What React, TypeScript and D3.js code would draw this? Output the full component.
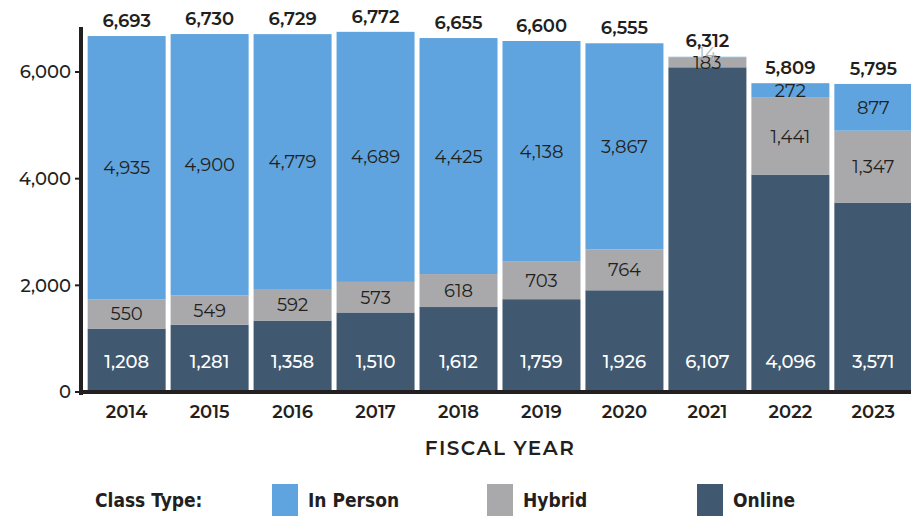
import React from "react";
import * as d3 from "d3";

const years = ["2014", "2015", "2016", "2017", "2018", "2019", "2020", "2021", "2022", "2023"];
const online = [1208, 1281, 1358, 1510, 1612, 1759, 1926, 6107, 4096, 3571];
const hybrid = [550, 549, 592, 573, 618, 703, 764, 183, 1441, 1347];
const inPerson = [4935, 4900, 4779, 4689, 4425, 4138, 3867, 14, 272, 877];
const totals = [6693, 6730, 6729, 6772, 6655, 6600, 6555, 6312, 5809, 5795];
const yTicks = [0, 2000, 4000, 6000];
const seriesNames = ["Online", "Hybrid", "In Person"];

const W = 911;
const H = 516;
const COLORS: Record<string, string> = { Online: "#405870", Hybrid: "#a9a9ab", "In Person": "#5fa4de" };
const FONT = "'Montserrat', 'Lato', 'Open Sans', sans-serif";
const LEGEND_FONT = "'DejaVu Sans Condensed', 'Liberation Sans Narrow', sans-serif";
const INK = "#231f20";
const fmt = d3.format(",");

export default function App() {
  const x = d3.scaleBand<string>().domain(years).range([86, 914]).paddingInner(0.06).paddingOuter(0.02);
  const y = d3.scaleLinear().domain([0, 6000]).range([393, 73]);

  const table = years.map((yr, i) => ({ year: yr, Online: online[i], Hybrid: hybrid[i], "In Person": inPerson[i] }));
  const stack = d3.stack<any>().keys(seriesNames)(table);

  return (
    <svg width={W} height={H} style={{ position: "absolute", left: 0, top: 0, background: "#fff" }}>
      {stack.map((layer) => (
        <g key={layer.key}>
          {layer.map((d, i) => (
            <rect
              key={i}
              x={x(years[i])}
              y={y(d[1])}
              width={x.bandwidth()}
              height={y(d[0]) - y(d[1])}
              fill={COLORS[layer.key]}
            />
          ))}
        </g>
      ))}
      {/* segment labels */}
      {stack.map((layer) => (
        <g key={"l" + layer.key}>
          {layer.map((d, i) => {
            const cx = (x(years[i]) as number) + x.bandwidth() / 2;
            let cy = (y(d[0]) + y(d[1])) / 2;
            let fill = INK;
            if (layer.key === "Online") {
              cy = 362;
              fill = "#ffffff";
            }
            const v = d[1] - d[0];
            if (layer.key === "In Person" && v < 50) {
              cy = y(d[1]) - 3;
              fill = "#b8b8ba";
            }
            return (
              <text
                key={i}
                x={cx}
                y={cy}
                dy="0.36em"
                textAnchor="middle"
                fontFamily={FONT}
                fontSize={18}
                fontWeight={layer.key === "Online" ? 500 : 400}
                fill={fill}
              >
                {fmt(v)}
              </text>
            );
          })}
        </g>
      ))}
      {/* totals */}
      {years.map((yr, i) => (
        <text
          key={"t" + yr}
          x={(x(yr) as number) + x.bandwidth() / 2}
          y={y(totals[i]) - 9}
          textAnchor="middle"
          fontFamily={FONT}
          fontSize={18}
          fontWeight={600}
          fill={INK}
        >
          {fmt(totals[i])}
        </text>
      ))}
      {/* axes */}
      <line x1={81} x2={81} y1={27} y2={395} stroke={INK} strokeWidth={4} />
      <line x1={79} x2={W} y1={392} y2={392} stroke={INK} strokeWidth={4} />
      {yTicks.map((t) => (
        <g key={"yt" + t}>
          <line x1={75} x2={80} y1={y(t) - 1} y2={y(t) - 1} stroke={INK} strokeWidth={2} />
          <text
            x={71}
            y={y(t) - 1}
            dy="0.36em"
            textAnchor="end"
            fontFamily={FONT}
            fontSize={18}
            fontWeight={500}
            fill={INK}
          >
            {fmt(t)}
          </text>
        </g>
      ))}
      {years.map((yr) => (
        <text
          key={"x" + yr}
          x={(x(yr) as number) + x.bandwidth() / 2}
          y={418}
          textAnchor="middle"
          fontFamily={FONT}
          fontSize={18}
          fontWeight={600}
          fill={INK}
        >
          {yr}
        </text>
      ))}
      <text
        x={500}
        y={455}
        textAnchor="middle"
        fontFamily={FONT}
        fontSize={20}
        fontWeight={600}
        letterSpacing={1.5}
        fill={INK}
      >
        FISCAL YEAR
      </text>
      {/* legend */}
      <text x={95} y={507} fontFamily={LEGEND_FONT} fontSize={19} fontWeight={700} fill={INK}>
        Class Type:
      </text>
      {[
        { name: "In Person", x: 272 },
        { name: "Hybrid", x: 487 },
        { name: "Online", x: 697 },
      ].map((l) => (
        <g key={"lg" + l.name}>
          <rect x={l.x} y={484} width={26} height={32} fill={COLORS[l.name]} />
          <text x={l.x + 36} y={507} fontFamily={LEGEND_FONT} fontSize={19} fontWeight={700} fill={INK}>
            {l.name}
          </text>
        </g>
      ))}
    </svg>
  );
}
